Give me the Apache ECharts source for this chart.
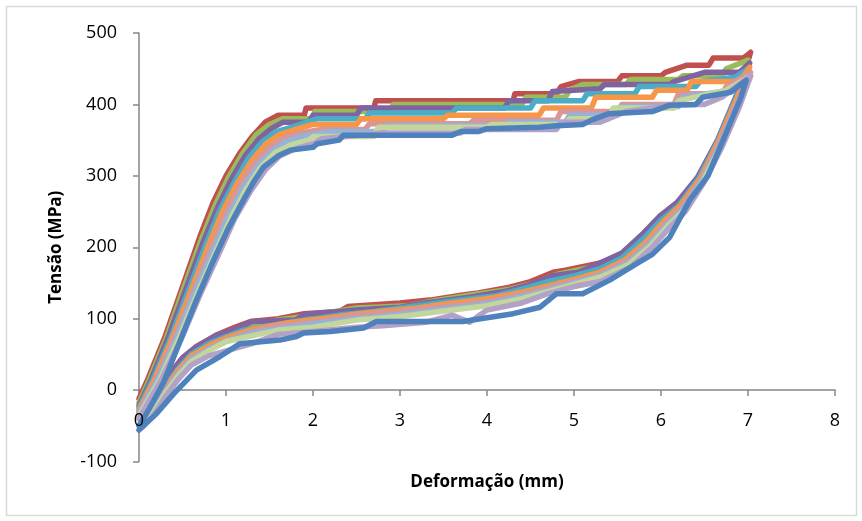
<!DOCTYPE html>
<html>
<head>
<meta charset="utf-8">
<script src="https://cdn.jsdelivr.net/npm/echarts@6/dist/echarts.min.js"></script>
<style>
  html, body { margin: 0; padding: 0; background: #fff; }
  #chart1 { width: 862px; height: 521px; }
</style>
</head>
<body>
<div id="chart1"></div>
<script>
"use strict";

// ensaios ciclicos - cada serie e um laco carga/descarga [deformacao, tensao]
var xTicks = [0, 1, 2, 3, 4, 5, 6, 7, 8];
var yTicks = [-100, 0, 100, 200, 300, 400, 500];

var names = ['C2', 'C3', 'C4', 'C5', 'C6', 'C7', 'C8', 'C9', 'C10', 'C1'];
var colors = ['#C0504D', '#9BBB59', '#8064A2', '#4BACC6', '#F79646',
  '#D99694', '#95B3D7', '#C3D69B', '#B3A2C7', '#4F81BD'];

var red = [[0,-12],[0.1,15],[0.3,75],[0.5,145],[0.7,215],[0.85,262],[1.0,300],[1.16,332],[1.3,355],[1.45,375],[1.6,385],[1.9,385],[1.92,395],[2.7,395],[2.72,405],[4.3,405],[4.32,415],[4.8,415],[4.85,425],[5.05,432],[5.5,432],[5.55,440],[6.0,440],[6.05,445],[6.3,455],[6.55,455],[6.6,465],[6.95,465],[7.03,473],
  [6.9,420],[6.7,360],[6.45,300],[6.22,266],[6.03,247],[5.84,221],[5.57,191],[5.3,178],[5.18,175],[4.9,168],[4.76,165],[4.5,152],[4.26,144],[3.9,136],[3.72,133],[3.34,126],[3.0,122],[2.4,117],[2.3,110],[1.9,107],[1.6,100],[1.28,96],[1.1,88],[0.89,77],[0.66,61],[0.5,45],[0.39,28],[0.25,5],[0.12,-20],[0.03,-35]];

var green = [[0,-18],[0.12,15],[0.32,75],[0.52,145],[0.72,212],[0.88,260],[1.03,298],[1.2,333],[1.35,358],[1.5,372],[1.65,380],[2.0,380],[2.02,390],[2.9,390],[2.92,400],[4.4,400],[4.45,410],[4.9,410],[4.95,420],[5.1,428],[5.6,428],[5.65,435],[6.2,435],[6.25,440],[6.7,440],[6.75,450],[7.0,462],
  [6.88,415],[6.68,355],[6.45,300],[6.2,262],[6.0,243],[5.82,218],[5.55,188],[5.2,172],[4.8,162],[4.55,150],[4.25,141],[3.8,133],[3.4,125],[3.1,118],[2.5,115],[2.0,105],[1.6,98],[1.3,92],[1.0,80],[0.8,68],[0.6,55],[0.45,35],[0.3,10],[0.15,-18],[0.04,-38]];

var purple = [[0,-22],[0.14,15],[0.34,75],[0.54,142],[0.74,208],[0.9,255],[1.06,295],[1.22,328],[1.38,352],[1.52,366],[1.65,375],[1.95,375],[2.0,385],[2.5,385],[2.55,395],[4.2,395],[4.25,405],[4.7,405],[4.75,418],[5.3,422],[5.35,428],[6.1,428],[6.15,432],[6.5,445],[6.9,445],[7.02,458],
  [6.85,408],[6.65,350],[6.42,298],[6.18,262],[5.98,243],[5.8,220],[5.55,192],[5.3,178],[5.05,165],[4.75,160],[4.5,148],[4.2,138],[3.8,130],[3.3,122],[3.0,116],[2.5,112],[1.9,106],[1.8,98],[1.3,96],[1.1,85],[0.89,77],[0.66,61],[0.5,45],[0.39,28],[0.25,2],[0.12,-25],[0.04,-40]];

var cyan = [[0,-25],[0.16,15],[0.36,72],[0.57,140],[0.77,205],[0.93,252],[1.1,292],[1.26,325],[1.42,348],[1.58,362],[1.75,368],[2.05,380],[2.6,380],[2.65,388],[3.6,388],[3.65,395],[4.5,395],[4.55,405],[5.1,405],[5.15,415],[5.7,415],[5.75,425],[6.4,425],[6.45,432],[6.85,438],[7.0,450],
  [6.85,405],[6.65,348],[6.44,298],[6.2,258],[6.0,238],[5.8,212],[5.55,185],[5.3,170],[5.0,160],[4.7,152],[4.45,143],[4.1,132],[3.7,126],[3.2,118],[2.7,110],[2.3,105],[1.8,96],[1.4,88],[1.2,84],[1.0,75],[0.8,65],[0.6,50],[0.45,30],[0.3,5],[0.15,-25],[0.04,-42]];

var orange = [[0,-28],[0.18,15],[0.38,72],[0.6,140],[0.8,203],[0.96,250],[1.13,290],[1.3,322],[1.46,345],[1.62,358],[1.8,365],[2.0,372],[2.5,372],[2.55,380],[3.5,380],[3.55,385],[4.6,385],[4.65,395],[5.2,395],[5.25,410],[5.9,410],[5.95,420],[6.3,420],[6.35,432],[6.9,432],[7.02,452],
  [6.86,405],[6.66,348],[6.46,298],[6.22,258],[6.03,236],[5.83,208],[5.58,182],[5.3,165],[5.0,155],[4.7,146],[4.4,137],[4.0,128],[3.6,122],[3.2,115],[2.6,108],[2.1,100],[1.7,94],[1.3,85],[1.0,73],[0.8,62],[0.6,48],[0.45,28],[0.3,2],[0.15,-28],[0.04,-44]];

var pink = [[0,-30],[0.2,15],[0.4,70],[0.62,138],[0.83,200],[1.0,248],[1.16,287],[1.33,318],[1.5,340],[1.66,353],[1.85,360],[2.1,365],[2.6,365],[2.65,373],[3.8,373],[3.85,378],[4.8,378],[4.85,390],[5.5,390],[5.55,400],[6.15,400],[6.2,415],[6.7,415],[6.75,425],[7.03,445],
  [6.87,402],[6.67,345],[6.47,296],[6.24,256],[6.05,234],[5.85,206],[5.6,180],[5.3,162],[5.0,152],[4.7,143],[4.4,134],[4.0,124],[3.6,118],[3.0,110],[2.5,105],[2.0,95],[1.6,90],[1.3,82],[1.0,70],[0.8,58],[0.6,45],[0.45,25],[0.3,0],[0.15,-30],[0.04,-46]];

var lightBlue = [[0,-33],[0.22,15],[0.42,70],[0.64,136],[0.86,198],[1.03,245],[1.2,284],[1.37,315],[1.54,336],[1.7,349],[1.9,356],[2.2,362],[2.8,362],[2.85,370],[4.2,370],[4.25,375],[4.9,375],[4.95,385],[5.5,385],[5.55,397],[6.2,397],[6.25,410],[6.8,420],[7.02,440],
  [6.88,400],[6.68,343],[6.48,295],[6.26,254],[6.07,232],[5.87,204],[5.62,178],[5.3,160],[5.0,150],[4.7,140],[4.4,131],[4.0,121],[3.6,115],[3.0,106],[2.5,100],[2.0,93],[1.6,86],[1.3,80],[1.0,68],[0.8,57],[0.6,43],[0.45,22],[0.3,-3],[0.15,-32],[0.04,-48]];

var lightGreen = [[0,-36],[0.24,15],[0.45,70],[0.67,135],[0.89,196],[1.06,242],[1.23,281],[1.4,312],[1.57,333],[1.74,343],[1.95,350],[2.0,355],[2.7,355],[2.75,368],[4.0,368],[4.05,372],[4.9,372],[4.95,380],[5.4,380],[5.45,395],[6.15,395],[6.2,405],[6.75,420],[7.03,440],
  [6.89,398],[6.69,342],[6.49,294],[6.27,252],[6.08,230],[5.88,202],[5.63,176],[5.3,158],[5.0,148],[4.7,138],[4.4,128],[4.0,118],[3.6,112],[3.0,103],[2.5,98],[2.0,88],[1.6,84],[1.3,76],[1.0,68],[0.8,55],[0.6,40],[0.45,20],[0.3,-5],[0.15,-34],[0.04,-50]];

var lightPurple = [[0,-40],[0.26,15],[0.48,70],[0.7,133],[0.93,194],[1.1,240],[1.28,278],[1.45,308],[1.62,328],[1.8,338],[2.0,345],[2.1,352],[2.8,360],[3.7,360],[3.75,365],[4.8,365],[4.85,375],[5.3,375],[5.6,390],[6.2,400],[6.5,400],[6.7,410],[7.03,440],
  [6.9,396],[6.7,340],[6.5,292],[6.28,250],[6.1,228],[5.9,200],[5.65,172],[5.3,152],[5.0,145],[4.7,135],[4.4,122],[4.0,112],[3.8,95],[3.6,105],[3.3,95],[2.8,90],[2.5,88],[2.0,82],[1.6,78],[1.3,65],[1.0,55],[0.8,48],[0.6,35],[0.45,15],[0.3,-10],[0.15,-38],[0.04,-52]];

var blue = [[0,-50],[0.1,-30],[0.28,10],[0.47,68],[0.66,126],[0.85,180],[1.02,225],[1.2,266],[1.32,292],[1.43,312],[1.6,328],[1.74,336],[2.0,340],[2.05,345],[2.3,350],[2.35,357],[3.6,357],[3.7,362],[3.9,362],[4.0,366],[4.6,368],[4.8,370],[5.1,372],[5.2,378],[5.4,387],[5.9,390],[6.1,399],[6.4,400],[6.48,410],[6.8,417],[6.98,434],
  [6.92,410],[6.72,352],[6.54,300],[6.33,266],[6.1,214],[5.9,190],[5.72,177],[5.41,154],[5.1,135],[4.8,135],[4.61,116],[4.3,107],[3.72,96],[3.34,96],[2.73,96],[2.58,87],[2.2,82],[1.89,80],[1.81,75],[1.62,70],[1.43,68],[1.16,65],[0.93,47],[0.66,28],[0.4,-5],[0.2,-33],[0.05,-50],[0,-56]];

var loops = [red, green, purple, cyan, orange, pink, lightBlue, lightGreen, lightPurple, blue];

var myChart = echarts.init(document.getElementById('chart1'));

var series = loops.map(function (pts, i) {
  return {
    name: names[i],
    type: 'line',
    data: pts,
    showSymbol: false,
    symbol: 'none',
    lineStyle: { color: colors[i], width: 5.5, cap: 'round', join: 'round' },
    itemStyle: { color: colors[i] },
    z: 2 + i
  };
});

var labelFont = { fontFamily: 'Open Sans', fontSize: 18, color: '#000' };

// eixo x cruza em tensao = 0 (uma divisao acima do fundo do grid)
var gridTop = 33, gridBottom = 59.5;
var plotH = 521 - gridTop - gridBottom;
var zeroOffset = -plotH * (0 - yTicks[0]) / (yTicks[yTicks.length - 1] - yTicks[0]);

var xBase = {
  type: 'value',
  min: xTicks[0], max: xTicks[xTicks.length - 1], interval: 1,
  offset: zeroOffset,
  splitLine: { show: false }
};

myChart.setOption({
  animation: false,
  backgroundColor: '#fff',
  graphic: [{
    type: 'rect',
    shape: { x: 6.5, y: 6.5, width: 850, height: 509 },
    style: { fill: 'none', stroke: '#D9D9D9', lineWidth: 1.5 },
    silent: true
  }],
  grid: { left: 139, right: 27, top: gridTop, bottom: gridBottom, containLabel: false, outerBoundsMode: 'none' },
  xAxis: [
    Object.assign({}, xBase, {
      name: 'Deformação (mm)',
      nameLocation: 'middle',
      nameGap: 84,
      nameTextStyle: { fontFamily: 'Open Sans', fontSize: 17, fontWeight: 'bold', color: '#000' },
      axisLine: { onZero: false, lineStyle: { color: '#868686', width: 1.5 } },
      axisTick: { show: true, length: 6, lineStyle: { color: '#868686', width: 1.5 } },
      axisLabel: { show: false }
    }),
    // so os rotulos, por cima das curvas (como no excel)
    Object.assign({}, xBase, {
      position: 'bottom',
      z: 30,
      axisLine: { show: false, onZero: false },
      axisTick: { show: false },
      axisLabel: Object.assign({ margin: 22 }, labelFont)
    })
  ],
  yAxis: {
    type: 'value',
    min: yTicks[0], max: yTicks[yTicks.length - 1], interval: 100,
    name: 'Tensão (MPa)',
    nameLocation: 'middle',
    nameGap: 74,
    nameTextStyle: { fontFamily: 'Open Sans', fontSize: 17, fontWeight: 'bold', color: '#000' },
    axisLine: { show: true, onZero: false, lineStyle: { color: '#868686', width: 1.5 } },
    axisTick: { show: true, length: 6, lineStyle: { color: '#868686', width: 1.5 } },
    axisLabel: Object.assign({ margin: 22 }, labelFont),
    splitLine: { show: false }
  },
  series: series
});
</script>
</body>
</html>
